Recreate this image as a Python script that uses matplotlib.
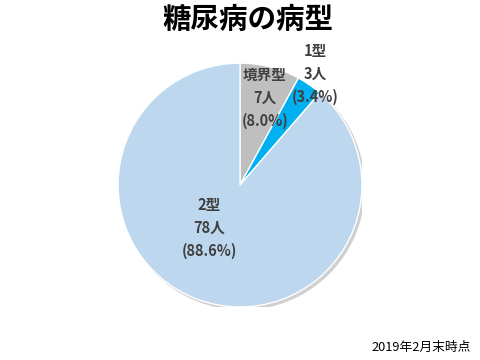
import matplotlib
matplotlib.use('Agg')
import matplotlib.pyplot as plt
from matplotlib.patches import Circle

plt.rcParams['font.family'] = ['Noto Sans CJK JP', 'DejaVu Sans']

# data
types = ['境界型', '1型', '2型']
counts = [7, 3, 78]
colors = ['#BFBFBF', '#00B0F0', '#BDD7EE']
total = sum(counts)

fig = plt.figure(figsize=(4.8, 3.6), dpi=100)
ax = fig.add_axes([0.246, 0.147, 0.508, 0.678])
# soft shadow behind the pie
ax.add_patch(Circle((0.02, -0.02), 1.0, color='#D0D0D0', zorder=0))
wedges, _ = ax.pie(counts, colors=colors, startangle=90, counterclock=False,
                   radius=1, wedgeprops=dict(edgecolor='white', linewidth=1))
ax.set_xlim(-1, 1)
ax.set_ylim(-1, 1)
ax.set_aspect('equal')

# label positions (data coords, per slice)
label_pos = [(0.205, 0.90), (0.62, 1.10), (-0.25, -0.165)]
for name, c, (x, y) in zip(types, counts, label_pos):
    pct = c / total * 100
    for k, s in enumerate([name, '%d人' % c, '(%.1f%%)' % pct]):
        ax.text(x, y - k * 0.188, s, ha='center', va='center', fontsize=10.5,
                fontweight='bold', color='#404040', clip_on=False)

fig.text(0.517, 0.944, '糖尿病の病型', ha='center', va='center', fontsize=20.5,
         fontweight='bold', color='#000000')
fig.text(0.98, 0.036, '2019年2月末時点', ha='right', va='center', fontsize=9.2,
         color='#000000')

fig.savefig('out.png', dpi=100)
